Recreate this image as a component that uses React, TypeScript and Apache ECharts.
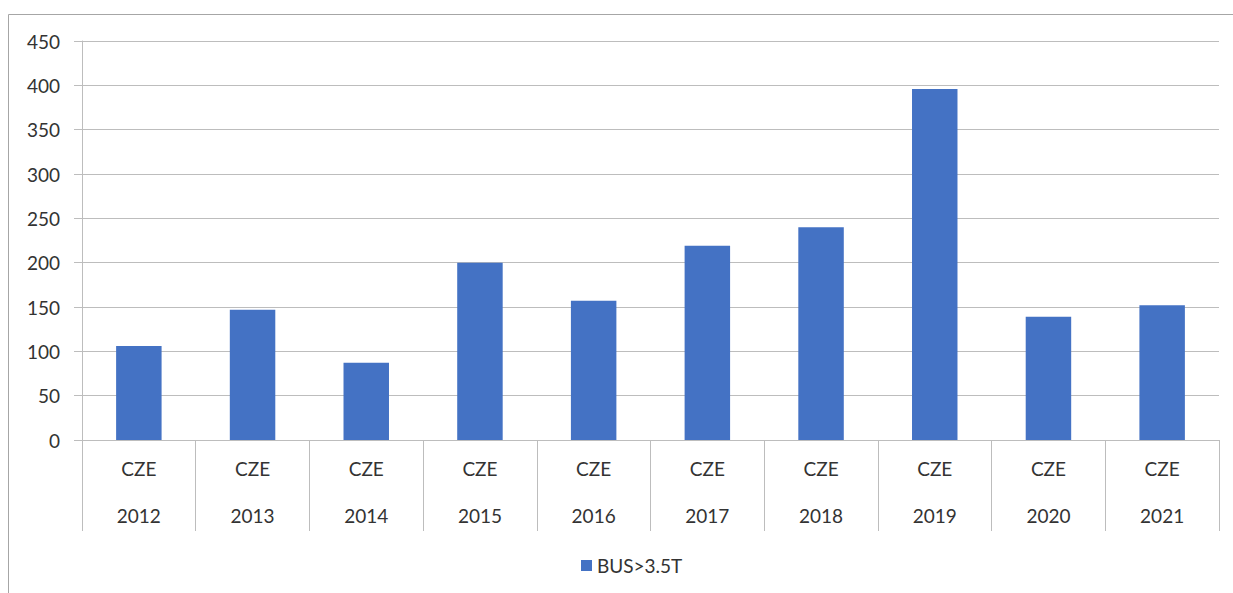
import React, { useEffect, useRef } from "react";
import * as echarts from "echarts";

const countries = ["CZE", "CZE", "CZE", "CZE", "CZE", "CZE", "CZE", "CZE", "CZE", "CZE"];
const years = ["2012", "2013", "2014", "2015", "2016", "2017", "2018", "2019", "2020", "2021"];
const busValues = [106, 147, 87, 200, 157, 219, 240, 396, 139, 152];
const seriesName = "BUS>3.5T";

const FONT = "Lato, 'Open Sans', sans-serif";
const TEXT = "#333333";
const GRID = "#bdbdbd";

export default function App() {
  const ref = useRef<HTMLDivElement>(null);
  useEffect(() => {
    if (!ref.current) return;
    const chart = echarts.init(ref.current, null, { renderer: "svg" });
    const cats = years.map((y, i) => countries[i] + "\n" + y);
    chart.setOption({
      animation: false,
      backgroundColor: "#ffffff",
      textStyle: { fontFamily: FONT },
      graphic: [
        {
          type: "rect",
          shape: { x: 8.5, y: 14.5, width: 1260, height: 620 },
          style: { fill: "none", stroke: "#a6a6a6", lineWidth: 1 },
          silent: true,
        },
      ],
      grid: { left: 82, right: 14, top: 41, bottom: 153 },
      legend: {
        left: 576,
        top: 551,
        icon: "rect",
        itemWidth: 11,
        itemHeight: 11,
        itemGap: 8,
        textStyle: { color: TEXT, fontSize: 19, fontFamily: FONT },
        data: [seriesName],
      },
      xAxis: {
        type: "category",
        data: cats,
        axisLine: { show: true, lineStyle: { color: GRID, width: 1 } },
        axisTick: { show: true, length: 91, lineStyle: { color: GRID } },
        axisLabel: {
          color: TEXT,
          fontSize: 19,
          fontFamily: FONT,
          lineHeight: 47,
          margin: 5,
          interval: 0,
        },
      },
      yAxis: {
        type: "value",
        min: 0,
        max: 450,
        interval: 50,
        axisLine: { show: true, lineStyle: { color: GRID } },
        axisTick: { show: true, inside: false, length: 8, lineStyle: { color: GRID } },
        axisLabel: { color: TEXT, fontSize: 19, fontFamily: FONT, margin: 22 },
        splitLine: { show: true, lineStyle: { color: GRID, width: 1 } },
      },
      series: [
        {
          name: seriesName,
          type: "bar",
          data: busValues,
          barWidth: "40%",
          itemStyle: { color: "#4472C4" },
        },
      ],
    });
    return () => chart.dispose();
  }, []);
  return (
    <div
      ref={ref}
      style={{ position: "fixed", left: 0, top: 0, width: 1233, height: 593, background: "#fff" }}
    />
  );
}
